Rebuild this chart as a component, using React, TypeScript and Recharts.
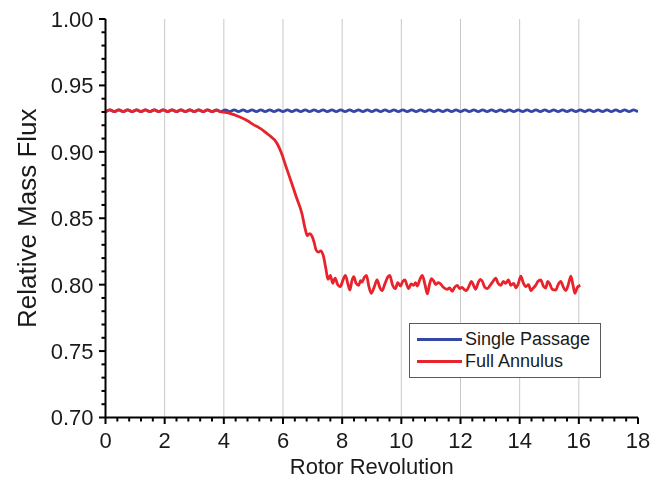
import { LineChart, Line, XAxis, YAxis, CartesianGrid, Legend } from 'recharts';

const FONT = '"Liberation Sans", Arial, Helvetica, sans-serif';

// axis ticks
const xTicks = [0, 0.4, 0.8, 1.2, 1.6, 2, 2.4, 2.8, 3.2, 3.6, 4, 4.4, 4.8, 5.2, 5.6, 6, 6.4, 6.8, 7.2, 7.6, 8, 8.4, 8.8, 9.2, 9.6, 10, 10.4, 10.8, 11.2, 11.6, 12, 12.4, 12.8, 13.2, 13.6, 14, 14.4, 14.8, 15.2, 15.6, 16, 16.4, 16.8, 17.2, 17.6, 18];
const xLabels = [0, 2, 4, 6, 8, 10, 12, 14, 16, 18];
const yTicks = [0.7, 0.71, 0.72, 0.73, 0.74, 0.75, 0.76, 0.77, 0.78, 0.79, 0.8, 0.81, 0.82, 0.83, 0.84, 0.85, 0.86, 0.87, 0.88, 0.89, 0.9, 0.91, 0.92, 0.93, 0.94, 0.95, 0.96, 0.97, 0.98, 0.99, 1.0];
const yLabels = [0.7, 0.75, 0.8, 0.85, 0.9, 0.95, 1.0];
const gridRevs = [2, 4, 6, 8, 10, 12, 14, 16];

const seriesNames = ['Single Passage', 'Full Annulus'];
const seriesColors = ['#3446a8', '#e8232b'];

// Single Passage
const singleRev = [
  0, 0.15, 0.3, 0.45, 0.6, 0.75, 0.9, 1.05, 1.2, 1.35, 1.5, 1.65, 1.8, 1.95, 2.1, 2.25, 2.4, 2.55, 2.7, 2.85,
  3, 3.15, 3.3, 3.45, 3.6, 3.75, 3.9, 4.05, 4.2, 4.35, 4.5, 4.65, 4.8, 4.95, 5.1, 5.25, 5.4, 5.55, 5.7, 5.85,
  6, 6.15, 6.3, 6.45, 6.6, 6.75, 6.9, 7.05, 7.2, 7.35, 7.5, 7.65, 7.8, 7.95, 8.1, 8.25, 8.4, 8.55, 8.7, 8.85,
  9, 9.15, 9.3, 9.45, 9.6, 9.75, 9.9, 10.05, 10.2, 10.35, 10.5, 10.65, 10.8, 10.95, 11.1, 11.25, 11.4, 11.55, 11.7, 11.85,
  12, 12.15, 12.3, 12.45, 12.6, 12.75, 12.9, 13.05, 13.2, 13.35, 13.5, 13.65, 13.8, 13.95, 14.1, 14.25, 14.4, 14.55, 14.7, 14.85,
  15, 15.15, 15.3, 15.45, 15.6, 15.75, 15.9, 16.05, 16.2, 16.35, 16.5, 16.65, 16.8, 16.95, 17.1, 17.25, 17.4, 17.55, 17.7, 17.85,
  18,
];
const singleFlux = [
  0.9302, 0.9316, 0.9302, 0.9316, 0.9302, 0.9316, 0.9302, 0.9316, 0.9302, 0.9316, 0.9302, 0.9316, 0.9302, 0.9316, 0.9302, 0.9316, 0.9302, 0.9316, 0.9302, 0.9316,
  0.9302, 0.9316, 0.9302, 0.9316, 0.9302, 0.9316, 0.9302, 0.9316, 0.9302, 0.9316, 0.9302, 0.9316, 0.9302, 0.9316, 0.9302, 0.9316, 0.9302, 0.9316, 0.9302, 0.9316,
  0.9302, 0.9316, 0.9302, 0.9316, 0.9302, 0.9316, 0.9302, 0.9316, 0.9302, 0.9316, 0.9302, 0.9316, 0.9302, 0.9316, 0.9302, 0.9316, 0.9302, 0.9316, 0.9302, 0.9316,
  0.9302, 0.9316, 0.9302, 0.9316, 0.9302, 0.9316, 0.9302, 0.9316, 0.9302, 0.9316, 0.9302, 0.9316, 0.9302, 0.9316, 0.9302, 0.9316, 0.9302, 0.9316, 0.9302, 0.9316,
  0.9302, 0.9316, 0.9302, 0.9316, 0.9302, 0.9316, 0.9302, 0.9316, 0.9302, 0.9316, 0.9302, 0.9316, 0.9302, 0.9316, 0.9302, 0.9316, 0.9302, 0.9316, 0.9302, 0.9316,
  0.9302, 0.9316, 0.9302, 0.9316, 0.9302, 0.9316, 0.9302, 0.9316, 0.9302, 0.9316, 0.9302, 0.9316, 0.9302, 0.9316, 0.9302, 0.9316, 0.9302, 0.9316, 0.9302, 0.9316,
  0.9302,
];

// Full Annulus
const annulusRev = [
  0, 0.15, 0.3, 0.45, 0.6, 0.75, 0.9, 1.05, 1.2, 1.35, 1.5, 1.65, 1.8, 1.95, 2.1, 2.25, 2.4, 2.55, 2.7, 2.85,
  3, 3.15, 3.3, 3.45, 3.6, 3.75, 3.9, 4.05, 4.2, 4.5, 4.8, 5.0, 5.2, 5.5, 5.8, 5.95, 6.1, 6.3, 6.45, 6.64,
  6.75, 6.82, 6.9, 6.98, 7.05, 7.12, 7.2, 7.28, 7.36, 7.45, 7.52, 7.6, 7.68, 7.76, 7.85, 7.94, 8.02, 8.11, 8.2, 8.26,
  8.33, 8.39, 8.47, 8.56, 8.62, 8.67, 8.75, 8.82, 8.9, 8.98, 9.08, 9.18, 9.27, 9.35, 9.45, 9.55, 9.61, 9.7, 9.8, 9.88,
  9.97, 10.05, 10.12, 10.2, 10.25, 10.33, 10.42, 10.48, 10.54, 10.62, 10.71, 10.8, 10.88, 10.95, 11.02, 11.1, 11.16, 11.25, 11.33, 11.42,
  11.55, 11.63, 11.72, 11.8, 11.89, 11.97, 12.05, 12.12, 12.2, 12.28, 12.37, 12.45, 12.51, 12.6, 12.67, 12.74, 12.82, 12.91, 13.0, 13.1,
  13.19, 13.27, 13.36, 13.45, 13.53, 13.62, 13.7, 13.8, 13.87, 13.95, 14.04, 14.12, 14.21, 14.3, 14.38, 14.46, 14.54, 14.62, 14.71, 14.8,
  14.88, 14.95, 15.02, 15.1, 15.22, 15.3, 15.39, 15.47, 15.56, 15.65, 15.73, 15.8, 15.87, 15.95, 16.05,
];
const annulusFlux = [
  0.9302, 0.9316, 0.9302, 0.9316, 0.9302, 0.9316, 0.9302, 0.9316, 0.9302, 0.9316, 0.9302, 0.9316, 0.9302, 0.9316, 0.9302, 0.9316, 0.9302, 0.9316, 0.9302, 0.9316,
  0.9302, 0.9316, 0.9302, 0.9316, 0.9302, 0.9313, 0.93, 0.9298, 0.929, 0.9266, 0.9234, 0.9205, 0.918, 0.913, 0.9063, 0.899, 0.889, 0.876, 0.866, 0.8535,
  0.842, 0.837, 0.8385, 0.8365, 0.832, 0.826, 0.8245, 0.8255, 0.822, 0.812, 0.804, 0.807, 0.801, 0.805, 0.8, 0.7985, 0.803, 0.807, 0.8, 0.796,
  0.803, 0.806, 0.801, 0.7995, 0.803, 0.802, 0.8055, 0.807, 0.799, 0.7935, 0.798, 0.8035, 0.798, 0.7955, 0.801, 0.806, 0.807, 0.8, 0.797, 0.8015,
  0.799, 0.8025, 0.8035, 0.799, 0.797, 0.8005, 0.7995, 0.8015, 0.799, 0.8035, 0.807, 0.8, 0.793, 0.8, 0.8045, 0.8025, 0.8, 0.8015, 0.8005, 0.798,
  0.7965, 0.7975, 0.795, 0.798, 0.7995, 0.797, 0.798, 0.7965, 0.7955, 0.7985, 0.8025, 0.799, 0.7965, 0.8015, 0.804, 0.8025, 0.798, 0.797, 0.7995, 0.8025,
  0.805, 0.801, 0.7995, 0.8025, 0.801, 0.8035, 0.7995, 0.801, 0.7975, 0.8005, 0.8065, 0.8015, 0.7985, 0.8, 0.7955, 0.7975, 0.7995, 0.8025, 0.8035, 0.799,
  0.7975, 0.8025, 0.8005, 0.7965, 0.796, 0.8, 0.8025, 0.7985, 0.7955, 0.8005, 0.8065, 0.8, 0.7935, 0.798, 0.7995,
];

const singleData = singleRev.map((rev, i) => ({ rev, flux: singleFlux[i] }));
const annulusData = annulusRev.map((rev, i) => ({ rev, flux: annulusFlux[i] }));

const isIn = (list: number[], v: number) => list.some((m) => Math.abs(m - v) < 1e-6);

// tick marks drawn here: 6.5px for labelled values, 4px otherwise
function XTick(props: any) {
  const { x, y, payload } = props;
  const major = isIn(xLabels, payload.value);
  return (
    <g>
      <rect x={x - 1} y={y} width={2} height={major ? 6.5 : 4} fill="#000" />
      {major && (
        <text x={x} y={y + 30} textAnchor="middle" fontFamily={FONT} fontSize={22} fill="#1a1a1a">
          {payload.value}
        </text>
      )}
    </g>
  );
}

function YTick(props: any) {
  const { x, y, payload } = props;
  const major = isIn(yLabels, payload.value);
  return (
    <g>
      <rect x={x - (major ? 6.5 : 4)} y={y - 1} width={major ? 6.5 : 4} height={2} fill="#000" />
      {major && (
        <text x={x - 12} y={y} dy="0.36em" textAnchor="end" fontFamily={FONT} fontSize={22} fill="#1a1a1a">
          {payload.value.toFixed(2)}
        </text>
      )}
    </g>
  );
}

function LegendBox() {
  return (
    <div
      style={{
        border: '1px solid #5a5a5a',
        background: '#fff',
        width: 190,
        padding: '4px 0 5px',
        fontFamily: FONT,
        fontSize: 18,
        color: '#1a1a1a',
        boxSizing: 'content-box',
      }}
    >
      {seriesNames.map((name, i) => (
        <div key={name} style={{ display: 'flex', alignItems: 'center', height: 22 }}>
          <span style={{ display: 'inline-block', width: 45, height: 3, background: seriesColors[i], marginLeft: 7, marginRight: 3 }} />
          <span>{name}</span>
        </div>
      ))}
    </div>
  );
}

export default function App() {
  return (
    <div style={{ position: 'fixed', left: 8, top: 8, width: 643, height: 470 }}>
      <LineChart width={643} height={470} margin={{ top: 11, right: 13, left: 0, bottom: 0 }}>
        <CartesianGrid horizontal={false} verticalValues={gridRevs} stroke="#c8c8c8" strokeWidth={1} />
        <XAxis
          type="number"
          dataKey="rev"
          domain={[0, 18]}
          ticks={xTicks}
          interval={0}
          allowDataOverflow
          height={60.5}
          tickSize={0}
          tickMargin={0}
          tickLine={false}
          tick={XTick}
          axisLine={{ stroke: '#000', strokeWidth: 2 }}
          label={{ value: 'Rotor Revolution', position: 'insideBottom', offset: 4, fontFamily: FONT, fontSize: 22, fill: '#1a1a1a' }}
        />
        <YAxis
          type="number"
          domain={[0.7, 1.0]}
          ticks={yTicks}
          interval={0}
          allowDataOverflow
          width={97.5}
          tickSize={0}
          tickMargin={0}
          tickLine={false}
          tick={YTick}
          axisLine={{ stroke: '#000', strokeWidth: 2 }}
          label={{ value: 'Relative Mass Flux', angle: -90, position: 'insideLeft', offset: 19, style: { textAnchor: 'middle' }, fontFamily: FONT, fontSize: 26, fill: '#1a1a1a' }}
        />
        <Legend
          layout="vertical"
          align="center"
          verticalAlign="middle"
          content={LegendBox}
          wrapperStyle={{ left: 401, top: 315, width: 'auto' }}
        />
        <Line
          data={singleData}
          dataKey="flux"
          name={seriesNames[0]}
          type="monotone"
          stroke={seriesColors[0]}
          strokeWidth={2.8}
          dot={false}
          isAnimationActive={false}
        />
        <Line
          data={annulusData}
          dataKey="flux"
          name={seriesNames[1]}
          type="monotone"
          stroke={seriesColors[1]}
          strokeWidth={2.8}
          dot={false}
          isAnimationActive={false}
        />
      </LineChart>
    </div>
  );
}
